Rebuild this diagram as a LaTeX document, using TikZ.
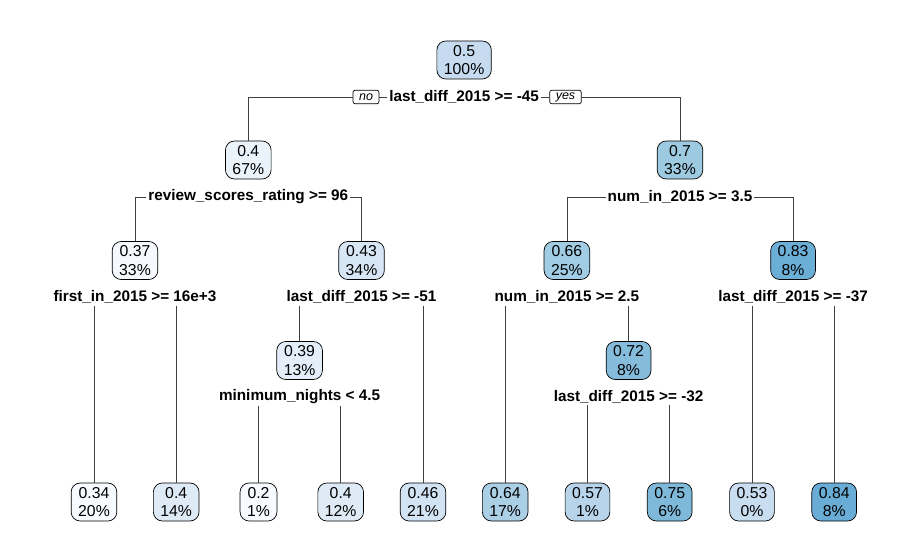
\documentclass[tikz,border=0pt]{standalone}
\usepackage{fontspec}
\setmainfont{Liberation Sans}
\begin{document}
\begin{tikzpicture}[x=1pt,y=-1pt,
  tnode/.style={draw=black,line width=0.7pt,rounded corners=9pt,align=center,
    font=\fontsize{15.8}{18.8}\selectfont,inner xsep=7pt,inner ysep=3pt,minimum height=38pt},
  slab/.style={fill=white,inner xsep=2pt,inner ysep=2pt,font=\fontsize{15.3}{18}\selectfont\bfseries},
  yn/.style={draw=black,line width=0.7pt,rounded corners=2pt,fill=white,inner xsep=6pt,inner ysep=1pt,
    minimum height=13.5pt,font=\fontsize{12.5}{12.5}\selectfont\itshape},
  conn/.style={draw=black!75,line width=0.8pt}]
\definecolor{c1}{HTML}{C6DBEF}
\definecolor{c2}{HTML}{EAF2FA}
\definecolor{c3}{HTML}{9ECAE1}
\definecolor{c4}{HTML}{F5F9FE}
\definecolor{c5}{HTML}{D6E6F4}
\definecolor{c6}{HTML}{A0CDE4}
\definecolor{c7}{HTML}{6BAED6}
\definecolor{c8}{HTML}{E3EEF9}
\definecolor{c9}{HTML}{85BCDC}
\definecolor{ca}{HTML}{F7FBFF}
\definecolor{cb}{HTML}{DEEBF7}
\definecolor{cc}{HTML}{F7FBFF}
\definecolor{cd}{HTML}{DEEBF7}
\definecolor{ce}{HTML}{D2E3F3}
\definecolor{cf}{HTML}{ABD0E6}
\definecolor{cg}{HTML}{B7D4EA}
\definecolor{ch}{HTML}{7EB9DA}
\definecolor{ci}{HTML}{C8DDF0}
\definecolor{cj}{HTML}{69ACD5}
\useasboundingbox (0,0) rectangle (922,559);
% internal nodes
\node[tnode,fill=c1] (n1) at (464.1,60) {0.5\\100\%};
\node[tnode,fill=c2] (n2) at (248.3,160) {0.4\\67\%};
\node[tnode,fill=c3] (n3) at (680,160) {0.7\\33\%};
\node[tnode,fill=c4] (n4) at (135,260.5) {0.37\\33\%};
\node[tnode,fill=c5] (n5) at (361.5,260.5) {0.43\\34\%};
\node[tnode,fill=c6] (n6) at (566.9,260.5) {0.66\\25\%};
\node[tnode,fill=c7] (n7) at (793.1,260.5) {0.83\\8\%};
\node[tnode,fill=c8] (n8) at (299.6,360.5) {0.39\\13\%};
\node[tnode,fill=c9] (n9) at (628.6,360.5) {0.72\\8\%};
% leaves
\node[tnode,fill=ca] (a) at (94,502) {0.34\\20\%};
\node[tnode,fill=cb] (b) at (176.2,502) {0.4\\14\%};
\node[tnode,fill=cc] (c) at (258.5,502) {0.2\\1\%};
\node[tnode,fill=cd] (d) at (340.7,502) {0.4\\12\%};
\node[tnode,fill=ce] (e) at (423,502) {0.46\\21\%};
\node[tnode,fill=cf] (f) at (505.2,502) {0.64\\17\%};
\node[tnode,fill=cg] (g) at (587.5,502) {0.57\\1\%};
\node[tnode,fill=ch] (h) at (669.7,502) {0.75\\6\%};
\node[tnode,fill=ci] (i) at (752,502) {0.53\\0\%};
\node[tnode,fill=cj] (j) at (834.2,502) {0.84\\8\%};
% split labels
\node[slab] (l1) at (464.1,97) {last\_diff\_2015 >= -45};
\node[yn] (no) at (366,97) {no};
\node[yn] (yes) at (565.5,97) {yes};
\node[slab] (l2) at (248.3,197) {review\_scores\_rating >= 96};
\node[slab] (l3) at (680,197) {num\_in\_2015 >= 3.5};
\node[slab] (l4) at (135,297) {first\_in\_2015 >= 16e+3};
\node[slab] (l5) at (361.5,297) {last\_diff\_2015 >= -51};
\node[slab] (l6) at (566.9,297) {num\_in\_2015 >= 2.5};
\node[slab] (l7) at (793.1,297) {last\_diff\_2015 >= -37};
\node[slab] (l8) at (299.6,396.5) {minimum\_nights < 4.5};
\node[slab] (l9) at (628.6,396.5) {last\_diff\_2015 >= -32};
% connectors
\draw[conn] (l1.west) -- (no.east);
\draw[conn] (no.west) -| (n2.north);
\draw[conn] (l1.east) -- (yes.west);
\draw[conn] (yes.east) -| (n3.north);
\draw[conn] (l2.west) -| (n4.north);
\draw[conn] (l2.east) -| (n5.north);
\draw[conn] (l3.west) -| (n6.north);
\draw[conn] (l3.east) -| (n7.north);
\draw[conn] (l4.south -| a.north) -- (a.north);
\draw[conn] (l4.south -| b.north) -- (b.north);
\draw[conn] (l5.south -| n8.north) -- (n8.north);
\draw[conn] (l5.south -| e.north) -- (e.north);
\draw[conn] (l8.south -| c.north) -- (c.north);
\draw[conn] (l8.south -| d.north) -- (d.north);
\draw[conn] (l6.south -| f.north) -- (f.north);
\draw[conn] (l6.south -| n9.north) -- (n9.north);
\draw[conn] (l9.south -| g.north) -- (g.north);
\draw[conn] (l9.south -| h.north) -- (h.north);
\draw[conn] (l7.south -| i.north) -- (i.north);
\draw[conn] (l7.south -| j.north) -- (j.north);
\end{tikzpicture}
\end{document}
